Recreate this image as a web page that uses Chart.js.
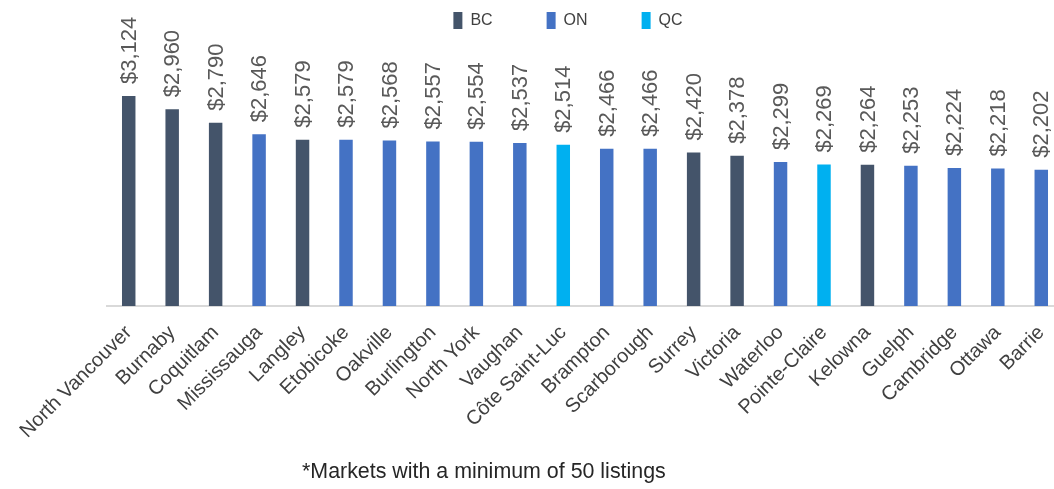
<!DOCTYPE html>
<html>
<head>
<meta charset="utf-8">
<script src="https://cdn.jsdelivr.net/npm/chart.js@4.4.1/dist/chart.umd.min.js"></script>
<style>
  html, body { margin: 0; padding: 0; background: #ffffff; overflow: hidden; width: 1054px; height: 489px; }
  #wrap { position: absolute; left: 0; top: 0; width: 1075px; height: 489px; }
  #note { position: absolute; left: 302px; top: 459px; font: 21.4px "Liberation Sans", Arial, sans-serif; color: #262626; white-space: nowrap; }
</style>
</head>
<body>
<div id="wrap"><canvas id="c"></canvas></div>
<div id="note">*Markets with a minimum of 50 listings</div>
<script>
// ---- data ----
const categories = ['North Vancouver', 'Burnaby', 'Coquitlam', 'Mississauga', 'Langley', 'Etobicoke',
  'Oakville', 'Burlington', 'North York', 'Vaughan', 'Côte Saint-Luc', 'Brampton', 'Scarborough',
  'Surrey', 'Victoria', 'Waterloo', 'Pointe-Claire', 'Kelowna', 'Guelph', 'Cambridge', 'Ottawa', 'Barrie'];
const rents = [3124, 2960, 2790, 2646, 2579, 2579, 2568, 2557, 2554, 2537, 2514, 2466, 2466,
  2420, 2378, 2299, 2269, 2264, 2253, 2224, 2218, 2202];
const provinces = ['BC', 'BC', 'BC', 'ON', 'BC', 'ON', 'ON', 'ON', 'ON', 'ON', 'QC', 'ON', 'ON',
  'BC', 'BC', 'ON', 'QC', 'BC', 'ON', 'ON', 'ON', 'ON'];
const provinceNames = ['BC', 'ON', 'QC'];
const provinceColors = ['#44546a', '#4472c4', '#00b0f0'];
const yMin = 500;
const yMax = 3850;

const FONT = '"Liberation Sans", Arial, sans-serif';

const datasets = provinceNames.map((p, k) => ({
  label: p,
  data: rents.map((v, i) => provinces[i] === p ? v : null),
  backgroundColor: provinceColors[k],
  borderWidth: 0,
  grouped: false,
  categoryPercentage: 1.0,
  barPercentage: 0.31
}));

const valueLabels = {
  id: 'valueLabels',
  afterDatasetsDraw(chart) {
    const ctx = chart.ctx;
    ctx.save();
    ctx.font = '22px ' + FONT;
    ctx.fillStyle = '#595959';
    ctx.textAlign = 'left';
    ctx.textBaseline = 'middle';
    chart.data.datasets.forEach((ds, di) => {
      const meta = chart.getDatasetMeta(di);
      meta.data.forEach((el, i) => {
        const v = ds.data[i];
        if (v == null) return;
        ctx.save();
        ctx.translate(el.x + 1, el.y - 12);
        ctx.rotate(-Math.PI / 2);
        ctx.fillText('$' + v.toLocaleString('en-US'), 0, 0);
        ctx.restore();
      });
    });
    ctx.restore();
  }
};

// place the legend row like the reference (legend clips to its own box, so only move the top edge up)
const legendPlace = {
  id: 'legendPlace',
  afterLayout(chart) {
    const lg = chart.legend;
    if (!lg) return;
    lg.left -= 17; lg.right -= 17;
    lg.top -= 42;
  }
};

new Chart(document.getElementById('c'), {
  type: 'bar',
  data: { labels: categories, datasets },
  plugins: [valueLabels, legendPlace],
  options: {
    responsive: true,
    maintainAspectRatio: false,
    animation: false,
    devicePixelRatio: 1,
    layout: { padding: { left: 107, right: 12, top: 0, bottom: 31 } },
    plugins: {
      legend: {
        display: true,
        position: 'top',
        maxHeight: 38,
        labels: {
          boxWidth: 9,
          boxHeight: 17,
          padding: 54,
          color: '#404040',
          font: { family: FONT, size: 16 }
        }
      },
      tooltip: { enabled: false }
    },
    scales: {
      x: {
        offset: true,
        grid: { display: false, drawTicks: false },
        border: { display: true, color: '#d9d9d9', width: 2 },
        ticks: {
          autoSkip: false,
          minRotation: 45,
          maxRotation: 45,
          padding: 15,
          color: '#404040',
          font: { family: FONT, size: 20 }
        }
      },
      y: {
        display: false,
        min: yMin,
        max: yMax
      }
    }
  }
});
</script>
</body>
</html>
